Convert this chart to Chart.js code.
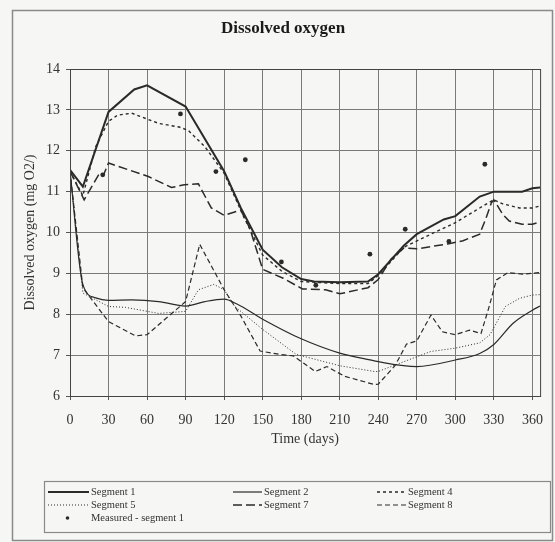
<!DOCTYPE html>
<html>
<head>
<meta charset="utf-8">
<script src="https://cdn.jsdelivr.net/npm/chart.js@4.4.1/dist/chart.umd.min.js"></script>
<style>
  html, body { margin: 0; padding: 0; background: #f6f6f4; }
  #wrap { width: 555px; height: 542px; }
</style>
</head>
<body>
<div id="wrap"><canvas id="doChart" width="555" height="542"></canvas></div>
<script>
// x tick labels (days)
const xTicks = [0, 30, 60, 90, 120, 150, 180, 210, 240, 270, 300, 330, 360];

// Segment 1 (thick solid)
const seg1Days = [0, 10, 30, 50, 60, 90, 120, 133, 150, 165, 180, 190, 210, 232, 240, 260, 270, 291, 300, 319, 330, 352, 360, 366];
const seg1Values = [11.53, 11.12, 12.95, 13.5, 13.6, 13.08, 11.5, 10.6, 9.58, 9.15, 8.86, 8.8, 8.78, 8.8, 8.98, 9.68, 9.96, 10.32, 10.4, 10.88, 11.0, 11.0, 11.08, 11.1];

// Segment 2 (thin solid)
const seg2Days = [0, 10, 20, 30, 48, 69, 90, 105, 120, 130, 150, 180, 210, 237, 240, 270, 300, 319, 330, 345, 360, 366];
const seg2Values = [11.5, 8.73, 8.4, 8.34, 8.35, 8.31, 8.2, 8.31, 8.37, 8.25, 7.88, 7.4, 7.05, 6.86, 6.84, 6.72, 6.88, 7.04, 7.26, 7.78, 8.1, 8.2];

// Segment 4 (short dash)
const seg4Days = [0, 10, 20, 30, 37, 48, 69, 85, 92, 105, 120, 135, 150, 165, 180, 210, 232, 240, 260, 281, 300, 319, 330, 337, 350, 360, 366];
const seg4Values = [11.5, 10.9, 12.1, 12.72, 12.87, 12.92, 12.67, 12.58, 12.5, 12.1, 11.45, 10.4, 9.45, 9.05, 8.8, 8.75, 8.75, 8.95, 9.64, 9.96, 10.24, 10.6, 10.8, 10.7, 10.6, 10.6, 10.65];

// Segment 5 (dotted)
const seg5Days = [0, 10, 30, 43, 69, 90, 100, 112, 120, 128, 150, 176, 210, 237, 240, 255, 270, 281, 300, 319, 327, 339, 350, 360, 366];
const seg5Values = [11.5, 8.52, 8.19, 8.17, 8.02, 8.07, 8.6, 8.73, 8.6, 8.2, 7.63, 7.02, 6.74, 6.6, 6.6, 6.78, 6.96, 7.09, 7.17, 7.3, 7.5, 8.19, 8.39, 8.47, 8.48];

// Segment 7 (long dash)
const seg7Days = [0, 11, 23, 26, 30, 61, 79, 89, 100, 110, 120, 133, 140, 150, 166, 181, 199, 210, 232, 240, 250, 260, 270, 294, 306, 319, 324, 328, 330, 337, 342, 352, 360, 366];
const seg7Values = [11.5, 10.8, 11.45, 11.4, 11.7, 11.37, 11.1, 11.17, 11.19, 10.6, 10.42, 10.55, 10.1, 9.1, 8.88, 8.62, 8.6, 8.5, 8.65, 8.85, 9.35, 9.62, 9.6, 9.72, 9.8, 9.96, 10.36, 10.72, 10.8, 10.44, 10.28, 10.2, 10.2, 10.26];

// Segment 8 (medium dash)
const seg8Days = [0, 10, 30, 51, 60, 90, 101, 120, 133, 148, 163, 174, 182, 191, 200, 214, 237, 240, 253, 262, 270, 281, 290, 300, 311, 320, 326, 332, 341, 352, 366];
const seg8Values = [11.5, 8.65, 7.82, 7.47, 7.5, 8.31, 9.71, 8.6, 7.96, 7.1, 7.02, 6.98, 6.8, 6.6, 6.72, 6.48, 6.28, 6.29, 6.74, 7.27, 7.35, 7.98, 7.57, 7.5, 7.61, 7.53, 8.15, 8.84, 9.02, 8.98, 9.02];

// Measured - segment 1
const measDays = [25.5, 86, 113.6, 136.5, 164.6, 191.4, 233.5, 261, 295, 323];
const measValues = [11.41, 12.9, 11.49, 11.78, 9.28, 8.71, 9.47, 10.08, 9.78, 11.67];

const pts = (days, vals) => days.map((d, i) => ({ x: d, y: vals[i] }));
const serif = "'Liberation Serif', 'Times New Roman', serif";
const ink = '#2a2a2a';

function lineSet(label, days, vals, width, dash, smooth) {
  return {
    label,
    data: pts(days, vals),
    borderColor: ink,
    backgroundColor: ink,
    borderWidth: width,
    borderDash: dash,
    pointRadius: 0,
    tension: 0,
    cubicInterpolationMode: smooth ? 'monotone' : 'default',
    fill: false
  };
}

const datasets = [
  lineSet('Segment 1', seg1Days, seg1Values, 2, [], false),
  lineSet('Segment 2', seg2Days, seg2Values, 1.2, [], true),
  lineSet('Segment 4', seg4Days, seg4Values, 1.4, [3, 3], false),
  lineSet('Segment 5', seg5Days, seg5Values, 1, [1, 2], false),
  lineSet('Segment 7', seg7Days, seg7Values, 1.5, [9, 4], false),
  lineSet('Segment 8', seg8Days, seg8Values, 1.2, [5, 3], false),
  {
    label: 'Measured - segment 1',
    data: pts(measDays, measValues),
    showLine: false,
    pointStyle: 'circle',
    pointRadius: 2.4,
    backgroundColor: ink,
    borderColor: ink,
    borderWidth: 0
  }
];

// frame, plot box and the boxed legend
const paperPlugin = {
  id: 'paper',
  beforeDraw(chart) {
    const c = chart.ctx;
    c.save();
    c.fillStyle = '#f6f6f4';
    c.fillRect(0, 0, chart.width, chart.height);
    c.strokeStyle = '#8a8a8a';
    c.lineWidth = 1.5;
    c.strokeRect(12.5, 10.5, 540, 530);
    c.restore();
  },
  afterDraw(chart) {
    const c = chart.ctx;
    const a = chart.chartArea;
    c.save();
    c.strokeStyle = '#444';
    c.lineWidth = 1;
    c.strokeRect(a.left + 0.5, a.top + 0.5, a.right - a.left, a.bottom - a.top);

    // legend
    c.strokeStyle = '#8a8a8a';
    c.lineWidth = 1.2;
    c.strokeRect(44.5, 481.5, 506, 51);
    const cols = [[48, 89, 91], [233, 262, 264], [377, 406, 408]];
    const rows = [492, 505, 518];
    c.font = '10.5px ' + serif;
    c.textBaseline = 'middle';
    c.fillStyle = '#333';
    chart.data.datasets.forEach((ds, i) => {
      const col = cols[i % 3];
      const y = rows[Math.floor(i / 3)];
      if (ds.showLine === false) {
        c.fillStyle = ink;
        c.beginPath();
        c.arc(67.5, y, 1.8, 0, Math.PI * 2);
        c.fill();
        c.fillStyle = '#333';
        c.fillText(ds.label, 91, y);
        return;
      }
      c.strokeStyle = ink;
      c.lineWidth = ds.borderWidth;
      c.setLineDash(ds.borderDash);
      c.beginPath();
      c.moveTo(col[0], y);
      c.lineTo(col[1], y);
      c.stroke();
      c.setLineDash([]);
      c.fillText(ds.label, col[2], y);
    });
    c.restore();
  }
};

new Chart(document.getElementById('doChart'), {
  type: 'line',
  data: { datasets },
  plugins: [paperPlugin],
  options: {
    responsive: false,
    animation: false,
    devicePixelRatio: 1,
    layout: { padding: { left: 18, right: 7, top: 0, bottom: 90 } },
    plugins: {
      legend: { display: false },
      tooltip: { enabled: false },
      title: {
        display: true,
        text: 'Dissolved oxygen',
        color: '#1a1a1a',
        font: { family: serif, size: 17, weight: 'bold' },
        padding: { top: 18, bottom: 30.6 }
      }
    },
    scales: {
      x: {
        type: 'linear',
        min: 0,
        max: 366,
        afterBuildTicks: scale => { scale.ticks = xTicks.map(v => ({ value: v })); },
        afterFit: scale => { scale.height = 56; },
        grid: { color: '#7a7a7a', lineWidth: 1, tickLength: 4, tickColor: '#555' },
        border: { color: '#333', width: 1 },
        ticks: { color: '#333', font: { family: serif, size: 14 }, padding: 12, maxRotation: 0 },
        title: { display: true, text: 'Time (days)', color: '#333', font: { family: serif, size: 14 }, padding: { top: 0, bottom: 4 } }
      },
      y: {
        min: 6,
        max: 14,
        ticks: { stepSize: 1, color: '#333', font: { family: serif, size: 14 }, padding: 6 },
        afterFit: scale => { scale.width = 52; },
        grid: { color: '#7a7a7a', lineWidth: 1, tickLength: 4, tickColor: '#555' },
        border: { color: '#333', width: 1 },
        title: { display: true, text: 'Dissolved oxygen (mg O2/)', color: '#333', font: { family: serif, size: 14 }, padding: { top: 4, bottom: 0 } }
      }
    }
  }
});
</script>
</body>
</html>
